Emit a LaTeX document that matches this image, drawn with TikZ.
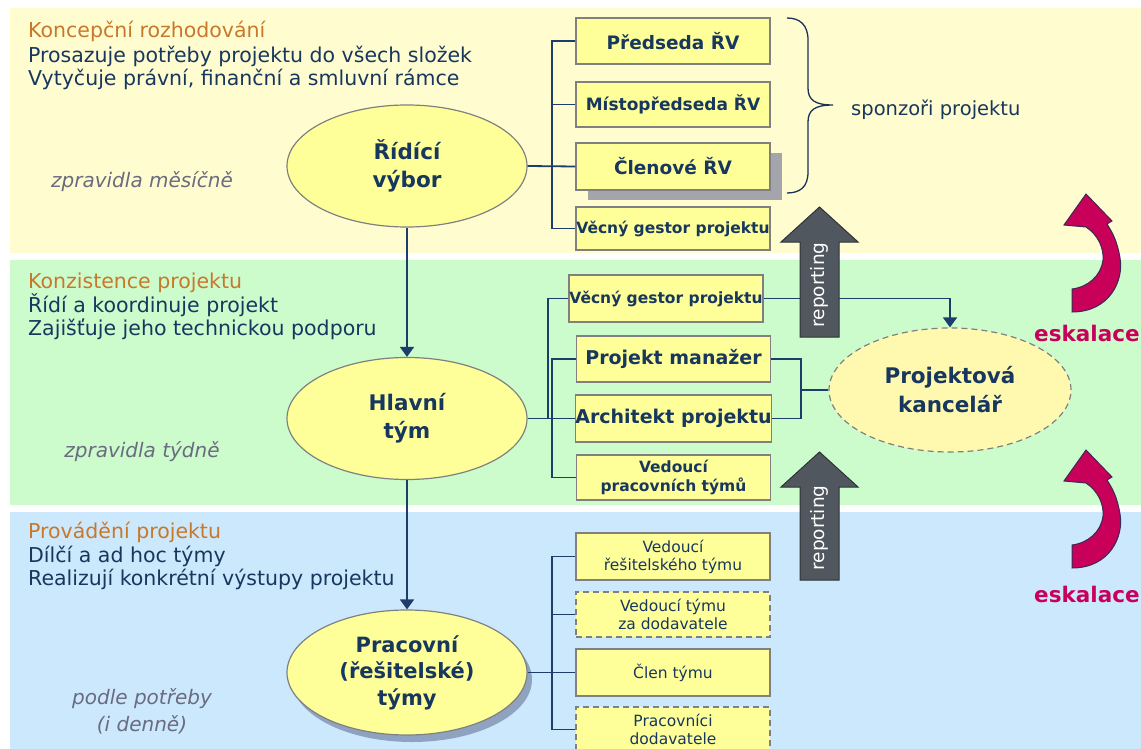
\documentclass[tikz,border=0pt]{standalone}
\usepackage{fontspec}
\setmainfont{DejaVu Sans}
\usetikzlibrary{arrows.meta,shapes.geometric,shadows}
\definecolor{bandY}{HTML}{FFFDD0}
\definecolor{bandG}{HTML}{CCFBCC}
\definecolor{bandB}{HTML}{CCE8FC}
\definecolor{boxfill}{HTML}{FFFF99}
\definecolor{boxline}{HTML}{808080}
\definecolor{navy}{HTML}{17375E}
\definecolor{linecol}{HTML}{1F3D6B}
\definecolor{headcol}{HTML}{C8782A}
\definecolor{grtext}{HTML}{6B6B80}
\definecolor{repfill}{HTML}{50575E}
\definecolor{repline}{HTML}{2E3338}
\definecolor{eskcol}{HTML}{C8005A}
\definecolor{eskline}{HTML}{3A2A55}
\definecolor{pkfill}{HTML}{FFF9B0}
\definecolor{shadowgrey}{HTML}{A4A4AC}
\definecolor{shadowblue}{HTML}{8FA3C0}
\tikzset{
  lefttext/.style={anchor=west, inner sep=0pt, text height=15pt, text depth=4pt,
    font=\fontsize{20.5pt}{23pt}\selectfont},
  headtext/.style={lefttext, text=headcol},
  bodytext/.style={lefttext, text=navy},
  freqtext/.style={inner sep=0pt, text=grtext, align=center,
    font=\fontsize{20pt}{27pt}\selectfont\itshape},
  oval/.style={ellipse, draw=boxline, line width=1.2pt, fill=boxfill,
    minimum width=240pt, minimum height=122pt, inner sep=0pt, text=navy,
    align=center, font=\fontsize{21.5pt}{28pt}\selectfont\bfseries},
  rolebox/.style={rectangle, draw=boxline, line width=1.5pt, fill=boxfill,
    minimum width=194pt, inner sep=0pt, text=navy, align=center},
  boldrole/.style={rolebox, font=\fontsize{18pt}{21pt}\selectfont\bfseries},
  plainrole/.style={rolebox, font=\fontsize{15.5pt}{18pt}\selectfont},
  dashedrole/.style={plainrole, dash pattern=on 6pt off 4pt},
  conn/.style={draw=linecol, line width=1.8pt},
  arr/.style={conn, -{Triangle[width=14pt,length=10pt]}},
  repshape/.style={fill=repfill, draw=repline, line width=1pt},
  reptext/.style={rotate=90, text=white, inner sep=0pt,
    font=\fontsize{18.5pt}{20pt}\selectfont},
  eskshape/.style={fill=eskcol, draw=eskline, line width=1pt, line join=miter},
  esktext/.style={anchor=west, inner sep=0pt, text=eskcol,
    font=\fontsize{21.5pt}{23pt}\selectfont\bfseries},
}
\begin{document}
\begin{tikzpicture}[x=1pt,y=-1pt]
\useasboundingbox (0,0) rectangle (1141,749);
\fill[white] (0,0) rectangle (1141,749);
% bands
\fill[bandY] (10,8) rectangle (1141,253);
\fill[bandG] (10,260) rectangle (1141,505);
\fill[bandB] (10,512) rectangle (1141,749);

% left texts
\node[headtext] (k1) at (28,32) {Koncepční rozhodování};
\node[bodytext] (k2) at (28,57) {Prosazuje potřeby projektu do všech složek};
\node[bodytext] (k3) at (28,80) {Vytyčuje právní, finanční a smluvní rámce};
\node[freqtext] (f1) at (142,182) {zpravidla měsíčně};

\node[headtext] (z1) at (28,283) {Konzistence projektu};
\node[bodytext] (z2) at (28,307) {Řídí a koordinuje projekt};
\node[bodytext] (z3) at (28,330) {Zajišťuje jeho technickou podporu};
\node[freqtext] (f2) at (142,452) {zpravidla týdně};

\node[headtext] (v1) at (28,533) {Provádění projektu};
\node[bodytext] (v2) at (28,557) {Dílčí a ad hoc týmy};
\node[bodytext] (v3) at (28,580) {Realizují konkrétní výstupy projektu};
\node[freqtext] (f3) at (142,711) {podle potřeby\\(i denně)};

% ellipses
\node[oval] (r) at (407,166) {Řídící\\výbor};
\node[oval] (h) at (407,418.5) {Hlavní\\tým};
\node[oval, minimum height=125pt, font=\fontsize{21pt}{26.5pt}\selectfont\bfseries,
  drop shadow={shadow xshift=5pt, shadow yshift=-7pt, fill=shadowblue, opacity=1}]
  (w) at (407,672.5) {Pracovní\\(řešitelské)\\týmy};
\node[ellipse, draw=boxline, line width=1.2pt, dash pattern=on 6pt off 4pt,
  fill=pkfill, minimum width=242pt, minimum height=124pt, inner sep=0pt,
  text=navy, align=center, font=\fontsize{21.5pt}{29pt}\selectfont\bfseries]
  (pk) at (950,390) {Projektová\\kancelář};

% top boxes
\node[boldrole, minimum height=46pt, font=\fontsize{18.5pt}{21pt}\selectfont\bfseries]
  (p1) at (673,41) {Předseda ŘV};
\node[boldrole, minimum height=45pt, font=\fontsize{17pt}{20pt}\selectfont\bfseries]
  (p2) at (673,104.5) {Místopředseda ŘV};
\node[boldrole, minimum height=47pt, font=\fontsize{18.5pt}{21pt}\selectfont\bfseries,
  drop shadow={shadow xshift=12pt, shadow yshift=-10pt, fill=shadowgrey, opacity=1}]
  (p3) at (673,166.5) {Členové ŘV};
\node[boldrole, minimum height=43pt, font=\fontsize{15.5pt}{18pt}\selectfont\bfseries]
  (p4) at (673,228.5) {Věcný gestor projektu};

% green boxes
\node[boldrole, minimum height=47pt, font=\fontsize{15.5pt}{18pt}\selectfont\bfseries]
  (g1) at (666,298.5) {Věcný gestor projektu};
\node[boldrole, minimum height=46pt, font=\fontsize{19pt}{22pt}\selectfont\bfseries]
  (g2) at (673.5,359) {Projekt manažer};
\node[boldrole, minimum height=47pt, font=\fontsize{19pt}{22pt}\selectfont\bfseries]
  (g3) at (673.5,418.5) {Architekt projektu};
\node[boldrole, minimum height=45pt, font=\fontsize{15.5pt}{19pt}\selectfont\bfseries]
  (g4) at (673.5,477.5) {Vedoucí\\pracovních týmů};

% blue boxes
\node[plainrole, minimum height=47pt] (b1) at (673,556.5) {Vedoucí\\řešitelského týmu};
\node[dashedrole, minimum height=45pt] (b2) at (673,614.5) {Vedoucí týmu\\za dodavatele};
\node[plainrole, minimum height=47pt] (b3) at (673,672.5) {Člen týmu};
\node[dashedrole, minimum height=45pt] (b4) at (673,729.5) {Pracovníci\\dodavatele};

% connectors: steering committee
\draw[conn] (r.east) -- (p3.west);
\draw[conn] (p1.west) -- ++(-23,0) |- (p4.west);
\draw[conn] (p2.west) -- ++(-23,0);
\draw[arr] (r.south) -- (h.north);

% connectors: main team
\coordinate (gj) at (548,418.5);
\draw[conn] (h.east) -- (g3.west);
\draw[conn] (g1.west) -| (gj);
\draw[conn] (g2.west) -- ++(-24,0) |- (g4.west);
\coordinate (jr) at (800,390);
\draw[conn] (g2.east) -- ++(30,0) |- (g3.east);
\draw[conn] (jr) -- (pk.west);
\draw[arr] (h.south) -- (w.north);

% connectors: work teams
\draw[conn] (w.east) -- (b3.west);
\draw[conn] (b1.west) -- ++(-23,0) |- (b4.west);
\draw[conn] (b2.west) -- ++(-23,0);

% reporting arrow 1 (over the line to the project office)
\draw[arr] (g1.east) -| (pk.north);
\draw[repshape] (800,337) -- (800,242) -- (781,242) -- (819.5,207) -- (858,242)
  -- (839,242) -- (839,337) -- cycle;
\node[reptext] (rep1) at (819.5,285) {reporting};
% reporting arrow 2
\draw[repshape] (800,580) -- (800,487) -- (781,487) -- (819.5,452) -- (858,487)
  -- (839,487) -- (839,580) -- cycle;
\node[reptext] (rep2) at (819.5,528) {reporting};

% brace
\draw[draw=linecol!80!black, line width=1.3pt]
  (787,18) .. controls (800,18) and (808,25) .. (808,40) -- (808,88)
  .. controls (808,100) and (815,105) .. (833,105)
  .. controls (815,105) and (808,110) .. (808,122) -- (808,172)
  .. controls (808,187) and (800,193) .. (787,193);
\node[anchor=west, inner sep=0pt, text=navy, font=\fontsize{19.5pt}{21pt}\selectfont]
  (sp) at (851,110) {sponzoři projektu};

% escalation arrows
\newcommand\eskpath{%
  (1086,194) -- (1064,225) -- (1086,227)
  .. controls (1098,235) and (1104,248) .. (1103,260)
  .. controls (1101,276) and (1088,287) .. (1072,289) -- (1072,312)
  .. controls (1110,312) and (1124,280) .. (1120,258)
  .. controls (1117,240) and (1112,232) .. (1107,224)
  -- (1112,221) -- cycle}
\draw[eskshape] \eskpath;
\node[esktext] (e1) at (1034,333) {eskalace};
\begin{scope}[yshift=-256pt]
\draw[eskshape] \eskpath;
\end{scope}
\node[esktext] (e2) at (1034,594) {eskalace};
\end{tikzpicture}
\end{document}
